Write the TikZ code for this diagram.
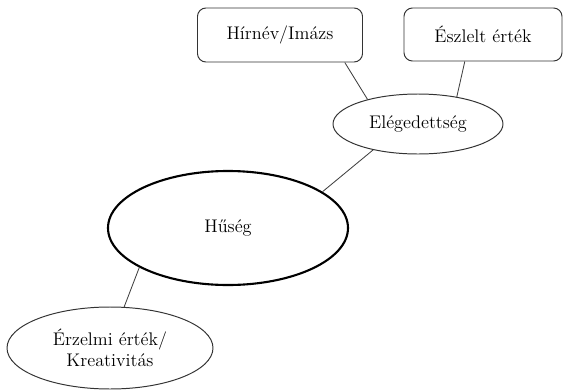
\documentclass[tikz,border=0pt]{standalone}
\usepackage{fontspec}
\usepackage{tikz}
\usetikzlibrary{shapes.geometric}

\tikzset{
  box/.style={draw=black!80, line width=0.7pt, rounded corners=6pt, inner sep=0pt},
  oval/.style={draw=black!80, ellipse, line width=0.7pt, inner sep=0pt, align=center},
  link/.style={draw=black!75, line width=0.6pt},
  every node/.style={font=\fontsize{13}{15}\selectfont}
}

\begin{document}
\begin{tikzpicture}

  \useasboundingbox (0,0) rectangle (14.075,-9.75);

  % upper boxes
  \node[box, minimum width=4.125cm, minimum height=1.35cm] (hirnev) at (7.0,-0.875) {Hírnév/Imázs};
  \node[box, minimum width=3.95cm, minimum height=1.325cm] (eszlelt) at (12.075,-0.8625) {Észlelt érték};

  % ellipses
  \node[oval, minimum width=4.25cm, minimum height=1.5cm] (elegedettseg) at (10.45,-3.1) {Elégedettség};
  \node[oval, line width=1.5pt, draw=black, minimum width=6.0cm, minimum height=2.85cm] (huseg) at (5.7,-5.7) {Hűség};
  \node[oval, minimum width=5.15cm, minimum height=2.05cm] (erzelmi) at (2.75,-8.7) {Érzelmi érték/\\Kreativitás};

  % links
  \draw[link] (hirnev.-23) -- (elegedettseg.154);
  \draw[link] (eszlelt.-124) -- (elegedettseg.35);
  \draw[link] (elegedettseg.210) -- (huseg.21);
  \draw[link] (huseg.204) -- (erzelmi.71);

\end{tikzpicture}
\end{document}
